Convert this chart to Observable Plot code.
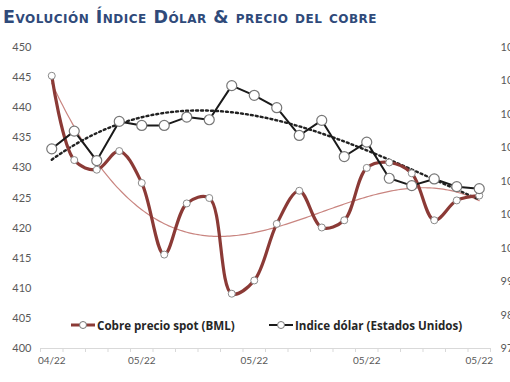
<!DOCTYPE html>
<html><head><meta charset="utf-8">
<script src="https://cdn.jsdelivr.net/npm/d3@7"></script>
<script src="https://cdn.jsdelivr.net/npm/@observablehq/plot@0.6"></script>
<style>
body{margin:0;background:#fff;}
#wrap{position:relative;width:510px;height:382px;overflow:hidden;background:#fff;}
#title{position:absolute;left:3px;top:7px;font-family:"DejaVu Sans";font-weight:bold;font-size:17.5px;font-variant:small-caps;color:#2f4a7a;white-space:nowrap;letter-spacing:0.5px;}
#chart{position:absolute;left:0;top:34px;}
.item{position:absolute;display:flex;align-items:center;white-space:nowrap;font-family:"Open Sans";font-weight:bold;font-size:11.6px;color:#262626;height:16px;}
.item svg{margin-right:1px}
</style></head><body>
<div id="wrap">
<div id="title">Evolución Índice Dólar &amp; precio del cobre</div>
<div id="chart"></div>
<div class="item" id="lg1" style="left:70px;top:317px"></div>
<div class="item" id="lg2" style="left:268px;top:317px"></div>
</div>
<script>
// Data
const copperName = "Cobre precio spot (BML)";
const dollarName = "Indice dólar (Estados Unidos)";
const copper = [445.3, 431.3, 429.7, 432.8, 427.5, 415.6, 424.1, 425.0, 409.1, 411.3,
                420.7, 426.2, 420.1, 421.3, 430.0, 430.9, 429.1, 421.3, 424.6, 425.4];
const dollar = [102.97, 103.50, 102.62, 103.79, 103.67, 103.67, 103.92, 103.84, 104.86, 104.57,
                104.20, 103.37, 103.82, 102.74, 103.17, 102.09, 101.87, 102.07, 101.84, 101.78];
const xTickIndex = [0, 4, 9, 14, 19];
const xTickLabels = ["04/22", "05/22", "05/22", "05/22", "05/22"];
const leftTicks = [400, 405, 410, 415, 420, 425, 430, 435, 440, 445, 450];
const rightTicks = [97, 98, 99, 100, 101, 102, 103, 104, 105, 106];

const L0 = 400, L1 = 450, R0 = 97, R1 = 106;
const toLeft = v => L0 + (v - R0) * (L1 - L0) / (R1 - R0);
const fromLeft = v => R0 + (v - L0) * (R1 - R0) / (L1 - L0);

function polyfit(xs, ys, deg) {
  const n = deg + 1;
  const A = Array.from({length: n}, () => new Array(n).fill(0));
  const b = new Array(n).fill(0);
  xs.forEach((x, k) => {
    for (let i = 0; i < n; i++) {
      b[i] += ys[k] * Math.pow(x, i);
      for (let j = 0; j < n; j++) A[i][j] += Math.pow(x, i + j);
    }
  });
  for (let c = 0; c < n; c++) {
    let p = c;
    for (let r = c + 1; r < n; r++) if (Math.abs(A[r][c]) > Math.abs(A[p][c])) p = r;
    [A[c], A[p]] = [A[p], A[c]]; [b[c], b[p]] = [b[p], b[c]];
    for (let r = c + 1; r < n; r++) {
      const f = A[r][c] / A[c][c];
      for (let j = c; j < n; j++) A[r][j] -= f * A[c][j];
      b[r] -= f * b[c];
    }
  }
  const coef = new Array(n).fill(0);
  for (let i = n - 1; i >= 0; i--) {
    let s = b[i];
    for (let j = i + 1; j < n; j++) s -= A[i][j] * coef[j];
    coef[i] = s / A[i][i];
  }
  return x => coef.reduce((s, c, i) => s + c * Math.pow(x, i), 0);
}

const idx = copper.map((_, i) => i);
const copperRows = idx.map(i => ({i, v: copper[i]}));
const dollarRows = idx.map(i => ({i, v: toLeft(dollar[i])}));
const fC = polyfit(idx, copper, 3);
const fD = polyfit(idx, dollar, 3);
const samples = d3.range(0, idx.length - 1 + 1e-9, 0.1);
const copperTrend = samples.map(x => ({i: x, v: fC(x)}));
const dollarTrend = samples.map(x => ({i: x, v: toLeft(fD(x))}));
const boundaries = d3.range(-0.5, idx.length, 1);

const cColor = "#8b3a36", dColor = "#1a1a1a";

const chart = Plot.plot({
  width: 510, height: 348,
  marginTop: 13, marginBottom: 34, marginLeft: 40, marginRight: 20,
  style: {fontFamily: "Lato", fontSize: "11px", color: "#595959", background: "transparent"},
  x: {type: "linear", domain: [-0.5, idx.length - 0.5], axis: null},
  y: {domain: [L0, L1], axis: null, label: null},
  marks: [
    Plot.ruleY([L0], {stroke: "#d9d9d9"}),
    Plot.axisX(boundaries, {tickSize: 4, tickFormat: () => "", stroke: "#d9d9d9", label: null}),
    Plot.axisX(xTickIndex, {tickSize: 0, tickPadding: 8, fontSize: 10,
      tickFormat: d => xTickLabels[xTickIndex.indexOf(d)], label: null}),
    Plot.axisY(leftTicks, {anchor: "left", tickSize: 0, tickPadding: 9, label: null}),
    Plot.axisY(rightTicks.map(toLeft), {anchor: "right", tickSize: 0, tickPadding: 10, label: null,
      textAnchor: "start", tickFormat: d => String(Math.round(fromLeft(d)))}),
    Plot.line(copperTrend, {x: "i", y: "v", stroke: "#c98580", strokeWidth: 1.2}),
    Plot.line(dollarTrend, {x: "i", y: "v", stroke: "#222", strokeWidth: 2.4, strokeDasharray: "2,3"}),
    Plot.line(copperRows, {x: "i", y: "v", stroke: cColor, strokeWidth: 3.2, curve: "catmull-rom"}),
    Plot.dot(copperRows, {x: "i", y: "v", r: 3.5, fill: "white", stroke: "#8a8a8a", strokeWidth: 1}),
    Plot.line(dollarRows, {x: "i", y: "v", stroke: dColor, strokeWidth: 2}),
    Plot.dot(dollarRows, {x: "i", y: "v", r: 5, fill: "white", stroke: "#777", strokeWidth: 1.2})
  ]
});
document.getElementById("chart").appendChild(chart);

function swatch(color, w) {
  return `<svg width="26" height="12"><line x1="1" y1="6" x2="25" y2="6" stroke="${color}" stroke-width="${w}"/><circle cx="13" cy="6" r="3.5" fill="white" stroke="#777" stroke-width="1"/></svg>`;
}
document.getElementById("lg1").innerHTML = swatch(cColor, 3) + copperName;
document.getElementById("lg2").innerHTML = swatch(dColor, 2) + dollarName;
</script>
</body></html>
